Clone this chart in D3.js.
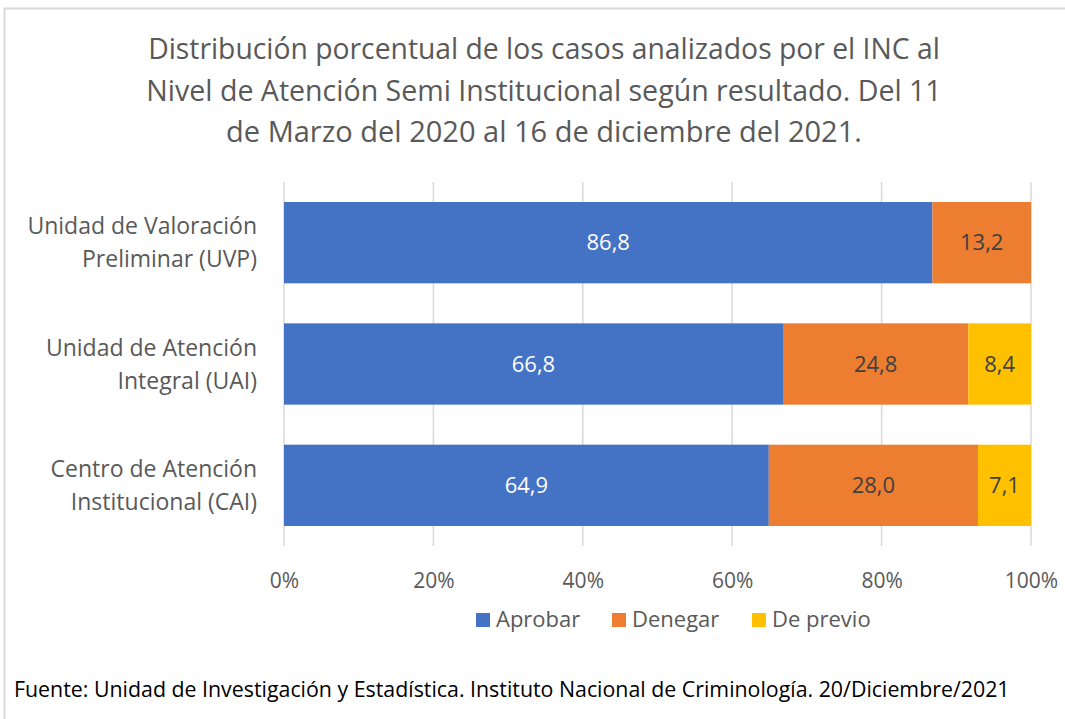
<!DOCTYPE html>
<html><head><meta charset="utf-8">
<script src="https://cdn.jsdelivr.net/npm/d3@7"></script>
<style>body{margin:0;background:#fff}svg{display:block}text{font-family:"Open Sans","Noto Sans",sans-serif}</style>
</head><body><svg id="c" width="1065" height="719"></svg>
<script>
const titleLines = ["Distribución porcentual de los casos analizados por el INC al","Nivel de Atención Semi Institucional según resultado. Del 11","de Marzo del 2020 al 16 de diciembre del 2021."];
const categories = ["UVP","UAI","CAI"];
const categoryLabels = [["Unidad de Valoración","Preliminar (UVP)"],["Unidad de Atención","Integral (UAI)"],["Centro de Atención","Institucional (CAI)"]];
const seriesNames = ["Aprobar","Denegar","De previo"];
const aprobar = [86.8, 66.8, 64.9];
const denegar = [13.2, 24.8, 28.0];
const dePrevio = [0, 8.4, 7.1];
const tickValues = [0, 20, 40, 60, 80, 100];
const colors = ["#4472C4","#ED7D31","#FFC000"];
const footer = "Fuente: Unidad de Investigación y Estadística. Instituto Nacional de Criminología. 20/Diciembre/2021";

const svg = d3.select("#c");
svg.append("path").attr("d","M4.5,719 V8.5 H1065").attr("fill","none").attr("stroke","#d9d9d9").attr("stroke-width",2);

function fit(sel, w){ const n=sel.node(); let fs=parseFloat(sel.attr("font-size")); const l=n.getComputedTextLength(); sel.attr("font-size", fs*w/l); }

const tw = [792, 796, 636];
titleLines.forEach((t,i)=>{
  const s = svg.append("text").attr("x",544).attr("y",59+i*41.5).attr("text-anchor","middle").attr("font-size",26).attr("fill","#595959").text(t);
  fit(s, tw[i]);
});

const x = d3.scaleLinear().domain([0,100]).range([284,1031]);
const y = d3.scaleBand().domain(categories).range([182,546]).paddingInner(0.33).paddingOuter(0.165);

const grid = svg.append("g");
grid.selectAll("line").data(tickValues).join("line")
  .attr("x1",d=>x(d)).attr("x2",d=>x(d)).attr("y1",182).attr("y2",546)
  .attr("stroke","#d9d9d9").attr("stroke-width",1.5);

const xAxis = d3.axisBottom(x).tickValues(tickValues).tickFormat(d=>d+"%").tickSize(0).tickPadding(0);
const ax = svg.append("g").attr("transform","translate(0,588)").call(xAxis);
ax.select(".domain").remove();
ax.selectAll("text").attr("font-size",21).attr("fill","#595959").attr("font-family","'Open Sans',sans-serif").attr("dy",0);

const data = categories.map((c,i)=>({cat:c, Aprobar:aprobar[i], Denegar:denegar[i], "De previo":dePrevio[i]}));
const stacked = d3.stack().keys(seriesNames)(data);

stacked.forEach((layer,li)=>{
  const g = svg.append("g");
  layer.forEach((d,i)=>{
    const v = d[1]-d[0];
    if (v<=0) return;
    g.append("rect").attr("x",x(d[0])).attr("y",y(categories[i])).attr("width",x(d[1])-x(d[0])).attr("height",y.bandwidth()).attr("fill",colors[li]);
    g.append("text").attr("x",(x(d[0])+x(d[1]))/2).attr("y",y(categories[i])+y.bandwidth()/2).attr("dy","0.35em")
      .attr("text-anchor","middle").attr("font-size",22).attr("fill", li===0?"#ffffff":"#404040")
      .text(d3.format(".1f")(v).replace(".",","));
  });
});

categories.forEach((c,i)=>{
  const cy = y(c)+y.bandwidth()/2;
  categoryLabels[i].forEach((t,j)=>{
    svg.append("text").attr("x",257).attr("y",cy+(j-0.5)*33).attr("dy","0.35em").attr("text-anchor","end")
      .attr("font-size",23).attr("fill","#595959").text(t);
  });
});

const legX = [476, 612, 752];
seriesNames.forEach((s,i)=>{
  svg.append("rect").attr("x",legX[i]).attr("y",613).attr("width",14).attr("height",14).attr("fill",colors[i]);
  svg.append("text").attr("x",legX[i]+20).attr("y",619).attr("dy","0.35em").attr("font-size",22).attr("fill","#595959").text(s);
});

const f = svg.append("text").attr("x",14).attr("y",690).attr("dy","0.35em").attr("font-size",18).attr("fill","#000").text(footer);
fit(f, 996);
</script></body></html>
